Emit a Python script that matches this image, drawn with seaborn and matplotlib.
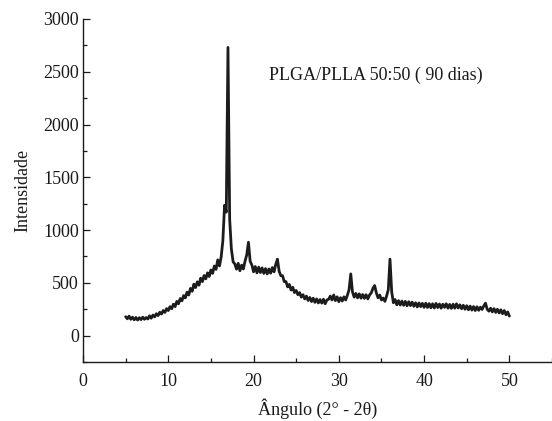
import numpy as np
import pandas as pd
import matplotlib
matplotlib.use("Agg")
import matplotlib.pyplot as plt
import seaborn as sns
from matplotlib.ticker import MultipleLocator

# Diffraction scan: 2θ from 5° to 50° in 0.2° steps
angle_start = 5.0
angle_step = 0.2

intensity = [
    180, 160, 185, 155, 175, 150, 172, 148, 170, 152,    # 5.0 - 6.8
    175, 155, 172, 158, 188, 165, 195, 178, 208, 190,    # 7.0 - 8.8
    222, 205, 238, 220, 256, 238, 275, 255, 298, 275,    # 9.0 - 10.8
    325, 302, 352, 330, 380, 358, 412, 385, 448, 420,    # 11.0 - 12.8
    488, 455, 510, 478, 545, 512, 570, 538, 595, 560,    # 13.0 - 14.8
    622, 590, 660, 628, 718, 660, 745, 900, 1235, 1170,  # 15.0 - 16.8
    2730, 1100, 820, 700, 680, 630, 685, 615, 668, 632,  # 17.0 - 18.8
    705, 765, 885, 705, 670, 605, 655, 595, 648, 598,    # 19.0 - 20.8
    642, 590, 635, 585, 632, 592, 645, 605, 675, 725,    # 21.0 - 22.8
    610, 568, 568, 512, 512, 462, 485, 432, 458, 408,    # 23.0 - 24.8
    428, 388, 408, 365, 388, 348, 375, 333, 362, 323,    # 25.0 - 26.8
    355, 315, 348, 310, 342, 308, 345, 302, 338, 345,    # 27.0 - 28.8
    375, 338, 385, 332, 368, 322, 360, 328, 368, 338,    # 29.0 - 30.8
    382, 435, 585, 415, 365, 400, 358, 396, 355, 390,    # 31.0 - 32.8
    353, 388, 348, 385, 405, 448, 475, 405, 358, 385,    # 33.0 - 34.8
    338, 356, 325, 375, 435, 725, 415, 312, 342, 292,    # 35.0 - 36.8
    332, 290, 328, 287, 325, 283, 322, 285, 318, 278,    # 37.0 - 38.8
    312, 272, 310, 275, 306, 268, 308, 267, 304, 264,    # 39.0 - 40.8
    302, 262, 306, 266, 300, 260, 298, 268, 302, 260,    # 41.0 - 42.8
    296, 258, 298, 260, 302, 262, 292, 255, 288, 250,    # 43.0 - 44.8
    284, 245, 280, 242, 276, 238, 274, 240, 270, 248,    # 45.0 - 46.8
    282, 308, 250, 232, 260, 225, 256, 220, 250, 215,    # 47.0 - 48.8
    245, 208, 238, 198, 225, 185,                        # 49.0 - 50.0
]

two_theta = np.round(angle_start + angle_step * np.arange(len(intensity)), 1)

x_ticks = [0, 10, 20, 30, 40, 50]
y_ticks = [0, 500, 1000, 1500, 2000, 2500, 3000]

sample_label = "PLGA/PLLA 50:50 ( 90 dias)"
x_label = "Ângulo (2° - 2θ)"
y_label = "Intensidade"

df = pd.DataFrame({"angle": two_theta, "intensity": intensity})

sns.set_style("ticks")
plt.rcParams["font.family"] = ["Liberation Serif", "DejaVu Serif"]

fig = plt.figure(figsize=(5.52, 4.21), dpi=100)
ax = fig.add_axes([0.1504, 0.140, 0.8496, 0.815])

sns.lineplot(data=df, x="angle", y="intensity", ax=ax,
             color="#1c1c1c", linewidth=2.0, estimator=None)

ax.set_xlim(0, 55)
ax.set_ylim(-250, 3000)
ax.set_xticks(x_ticks)
ax.set_yticks(y_ticks)
ax.xaxis.set_minor_locator(MultipleLocator(5))
ax.yaxis.set_minor_locator(MultipleLocator(250))

ax.tick_params(axis="both", which="major", direction="in", length=5,
               width=0.9, labelsize=13, colors="#1a1a1a")
ax.tick_params(axis="both", which="minor", direction="in", length=3,
               width=0.9, colors="#1a1a1a")
ax.tick_params(axis="x", which="major", pad=8)
ax.tick_params(axis="y", which="major", pad=3)

for side in ("top", "right"):
    ax.spines[side].set_visible(False)
for side in ("left", "bottom"):
    ax.spines[side].set_linewidth(1.0)
    ax.spines[side].set_color("#1a1a1a")

ax.set_xlabel(x_label, fontsize=13, color="#1a1a1a", labelpad=6)
ax.set_ylabel(y_label, fontsize=13, color="#1a1a1a", labelpad=8)

ax.text(21.8, 2470, sample_label, fontsize=13, color="#1a1a1a",
        va="center", ha="left")

fig.savefig("out.png", dpi=100)
